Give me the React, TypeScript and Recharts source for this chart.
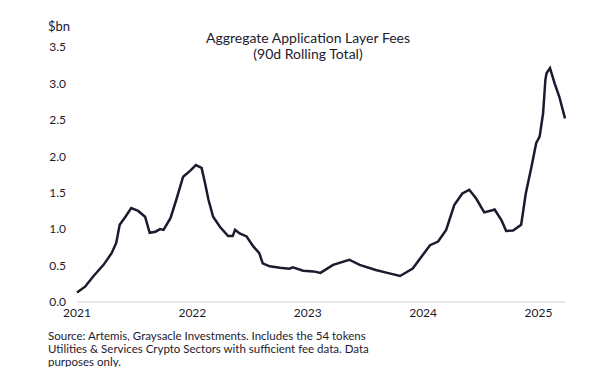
import { LineChart, Line, XAxis, YAxis } from 'recharts'

// decimal year of each reading, and the 90d rolling fee total in $bn
const YEARS = [
  2021.0, 2021.07, 2021.14, 2021.23, 2021.3, 2021.34, 2021.37, 2021.42, 2021.47, 2021.53,
  2021.59, 2021.63, 2021.68, 2021.72, 2021.75, 2021.81, 2021.86, 2021.92, 2021.98, 2022.03,
  2022.08, 2022.11, 2022.14, 2022.18, 2022.24, 2022.31, 2022.35, 2022.37, 2022.41, 2022.47,
  2022.53, 2022.58, 2022.61, 2022.67, 2022.76, 2022.84, 2022.87, 2022.96, 2023.05, 2023.11,
  2023.22, 2023.36, 2023.45, 2023.59, 2023.69, 2023.8, 2023.91, 2024.06, 2024.13, 2024.2,
  2024.27, 2024.34, 2024.4, 2024.46, 2024.53, 2024.6, 2024.62, 2024.68, 2024.72, 2024.78,
  2024.85, 2024.89, 2024.94, 2024.98, 2025.01, 2025.04, 2025.06, 2025.07, 2025.1, 2025.14,
  2025.18, 2025.23,
]
const FEES = [
  0.13, 0.21, 0.35, 0.51, 0.67, 0.81, 1.06, 1.17, 1.29, 1.25,
  1.17, 0.95, 0.965, 1.0, 0.99, 1.15, 1.4, 1.72, 1.8, 1.88,
  1.84, 1.63, 1.4, 1.17, 1.03, 0.905, 0.905, 0.99, 0.94, 0.9,
  0.76, 0.67, 0.53, 0.49, 0.47, 0.457, 0.476, 0.43, 0.42, 0.4,
  0.51, 0.58, 0.51, 0.44, 0.4, 0.357, 0.46, 0.78, 0.83, 0.99,
  1.33, 1.49, 1.54, 1.42, 1.23, 1.26, 1.27, 1.12, 0.975, 0.98,
  1.06, 1.49, 1.86, 2.18, 2.27, 2.59, 3.05, 3.14, 3.21, 3.0,
  2.82, 2.52,
]
const X_TICKS = [2021, 2022, 2023, 2024, 2025]
const Y_TICKS = [0, 0.5, 1, 1.5, 2, 2.5, 3, 3.5]

const data = YEARS.map((t, i) => ({ t, fees: FEES[i] }))

const FONT = 'Lato, "Open Sans", sans-serif'
const INK = '#1d1a2e'

export default function App() {
  return (
    <div style={{ position: 'relative', width: 600, height: 375, margin: -8, background: '#fff', fontFamily: FONT, color: INK }}>
      <div style={{ position: 'absolute', left: 48, top: 18, fontSize: 13 }}>$bn</div>
      <div style={{ position: 'absolute', left: 158, width: 300, top: 30, textAlign: 'center', fontSize: 14, lineHeight: '16px' }}>
        Aggregate Application Layer Fees
        <br />
        (90d Rolling Total)
      </div>

      <LineChart width={600} height={330} data={data} margin={{ top: 47, right: 35, bottom: 0, left: 0 }}>
        <XAxis
          dataKey="t"
          type="number"
          domain={[2021, 2025.23]}
          ticks={X_TICKS}
          height={28}
          tickLine={false}
          tickSize={0}
          tickMargin={6}
          axisLine={{ stroke: '#cfcfcf' }}
          tick={{ fill: INK, fontSize: 12, fontFamily: FONT }}
        />
        <YAxis
          type="number"
          domain={[0, 3.5]}
          ticks={Y_TICKS}
          width={77}
          axisLine={false}
          tickLine={false}
          tickSize={0}
          tickMargin={11}
          tickFormatter={(v: number) => v.toFixed(1)}
          tick={{ fill: INK, fontSize: 12, fontFamily: FONT }}
        />
        <Line
          dataKey="fees"
          type="linear"
          stroke={INK}
          strokeWidth={2.5}
          dot={false}
          isAnimationActive={false}
        />
      </LineChart>

      <div style={{ position: 'absolute', left: 48, top: 329, whiteSpace: 'nowrap', fontSize: 11.5, lineHeight: '13px' }}>
        Source: Artemis, Graysacle Investments. Includes the 54 tokens
        <br />
        Utilities &amp; Services Crypto Sectors with sufficient fee data. Data
        <br />
        purposes only.
      </div>
    </div>
  )
}
